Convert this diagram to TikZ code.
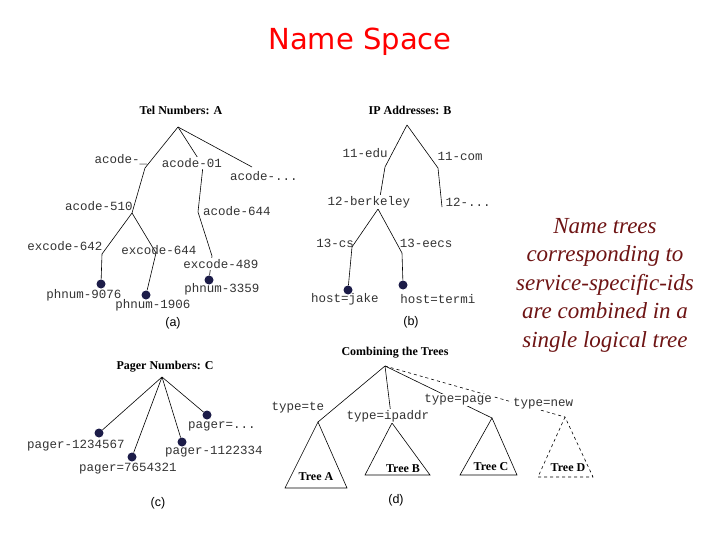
\documentclass[tikz,border=0pt]{standalone}
\usepackage{fontspec}
\setmainfont{Liberation Serif}
\setsansfont{Liberation Sans}
\setmonofont{Liberation Mono}
\newfontfamily\titlefont{DejaVu Sans}
\usetikzlibrary{positioning}
\definecolor{TitleRed}{HTML}{FF0000}
\definecolor{NoteRed}{HTML}{6E1414}
\definecolor{DotBlue}{HTML}{1C1C48}

\begin{document}
\begin{tikzpicture}[x=1pt, y=-1pt, every node/.style={inner sep=1pt},
  lbl/.style={font=\fontsize{12.5}{13}\selectfont\ttfamily, text=black!80},
  lblw/.style={lbl, fill=white},
  head/.style={font=\fontsize{12}{13}\selectfont\bfseries},
  leaf/.style={circle, fill=DotBlue, minimum size=9pt, inner sep=0pt},
  sublbl/.style={font=\fontsize{12.5}{13}\selectfont\sffamily},
  br/.style={line width=0.6pt}]
  \useasboundingbox (0,0) rectangle (720,540);
  \node[text=TitleRed, font=\fontsize{29}{30}\selectfont\titlefont] (title) at (360,42) {Name Space};

  % (a) tel numbers
  \node[head] (ahead) at (181,110) {Tel Numbers: A};
  \coordinate (aroot) at (178,127);
  \coordinate (a1) at (145,168);
  \coordinate (a2) at (203,166);
  \coordinate (a3) at (252,167);
  \coordinate (a510) at (132,213);
  \coordinate (a644) at (198,212);
  \coordinate (a489) at (212,256);
  \coordinate (a642) at (102,254);
  \coordinate (ax644) at (156,253);
  \node[leaf] (p9076) at (101,284) {};
  \node[leaf] (p1906) at (146,295) {};
  \node[leaf] (p3359) at (209,280) {};
  \draw[br] (aroot) -- (a1) -- (a510) -- (a642) -- (p9076);
  \draw[br] (aroot) -- (a2) -- (a644) -- (a489) -- (p3359);
  \draw[br] (aroot) -- (a3);
  \draw[br] (a510) -- (ax644) -- (p1906);
  \node[lbl] (l1) at (121,160) {acode-\_};
  \node[lblw] (l2) at (192,163) {acode-01};
  \node[lbl] (l3) at (264,176) {acode-...};
  \node[lbl] (l4) at (99,206) {acode-510};
  \node[lbl] (l5) at (237,211) {acode-644};
  \node[lbl] (l6) at (65,246) {excode-642};
  \node[lbl] (l7) at (159,250) {excode-644};
  \node[lblw] (l8) at (221,264) {excode-489};
  \node[lbl] (l9) at (84,295) {phnum-9076};
  \node[lbl] (l10) at (153,305) {phnum-1906};
  \node[lbl] (l11) at (222,289) {phnum-3359};
  \node[sublbl] (capa) at (173,323) {(a)};

  % (b) ip addresses
  \node[head] (bhead) at (410,110) {IP Addresses: B};
  \coordinate (broot) at (407,125);
  \coordinate (b11e) at (385,167);
  \coordinate (b11c) at (438,168);
  \coordinate (b12d) at (442,207);
  \coordinate (b12b) at (378,209);
  \coordinate (b13c) at (352,247);
  \coordinate (b13e) at (402,253);
  \node[leaf] (hjake) at (348,290) {};
  \node[leaf] (htermi) at (403,285) {};
  \draw[br] (broot) -- (b11e) -- (b12b) -- (b13c) -- (hjake);
  \draw[br] (broot) -- (b11c) -- (b12d);
  \draw[br] (b12b) -- (b13e) -- (htermi);
  \node[lbl] (m1) at (365,153) {11-edu};
  \node[lbl] (m2) at (460,156) {11-com};
  \node[lblw] (m3) at (369,202) {12-berkeley};
  \node[lbl] (m4) at (468,202) {12-...};
  \node[lbl] (m5) at (335,243) {13-cs};
  \node[lbl] (m6) at (426,243) {13-eecs};
  \node[lbl] (m7) at (345,299) {host=jake};
  \node[lbl] (m8) at (438,299) {host=termi};
  \node[sublbl] (capb) at (411,322) {(b)};

  % (c) pager numbers
  \node[head] (chead) at (165,367) {Pager Numbers: C};
  \coordinate (croot) at (162,377);
  \node[leaf] (c1) at (99,433) {};
  \node[leaf] (c2) at (132,457) {};
  \node[leaf] (c3) at (182,442) {};
  \node[leaf] (c4) at (207,415) {};
  \foreach \c in {c1,c2,c3,c4}
    \draw[br] (croot) -- (\c);
  \node[lbl] (n1) at (76,446) {pager-1234567};
  \node[lbl] (n2) at (128,469) {pager=7654321};
  \node[lbl] (n3) at (214,452) {pager-1122334};
  \node[lbl] (n4) at (222,426) {pager=...};
  \node[sublbl] (capc) at (158,503) {(c)};

  % (d) combined tree
  \node[head] (dhead) at (395,353) {Combining the Trees};
  \coordinate (droot) at (385,366);
  \coordinate (tA) at (318,422);
  \coordinate (tB) at (392,423);
  \coordinate (tC) at (492,418);
  \coordinate (tD) at (565,417);
  \draw[br] (droot) -- (tA);
  \draw[br] (droot) -- (tB);
  \draw[br] (droot) -- (tC);
  \draw[br, dashed] (droot) -- (tD);
  \draw[br] (tA) -- (285,488) -- (347,488) -- cycle;
  \draw[br] (tB) -- (365,475) -- (430,475) -- cycle;
  \draw[br] (tC) -- (460,475) -- (517,475) -- cycle;
  \draw[br, dashed] (tD) -- (538,477) -- (593,477) -- cycle;
  \node[lbl] (k1) at (298,408) {type=te};
  \node[lblw] (k2) at (388,416) {type=ipaddr};
  \node[lblw] (k3) at (458,400) {type=page};
  \node[lblw] (k4) at (543,404) {type=new};
  \node[head] (treeA) at (316,477) {Tree A};
  \node[head] (treeB) at (403,469) {Tree B};
  \node[head] (treeC) at (491,467) {Tree C};
  \node[head] (treeD) at (568,468) {Tree D};
  \node[sublbl] (capd) at (396,500) {(d)};

  \node[text=NoteRed, align=center, font=\fontsize{23}{28.5}\selectfont\itshape] (note) at (605,285)
    {Name trees\\corresponding to\\service-specific-ids\\are combined in a\\single logical tree};
\end{tikzpicture}
\end{document}
